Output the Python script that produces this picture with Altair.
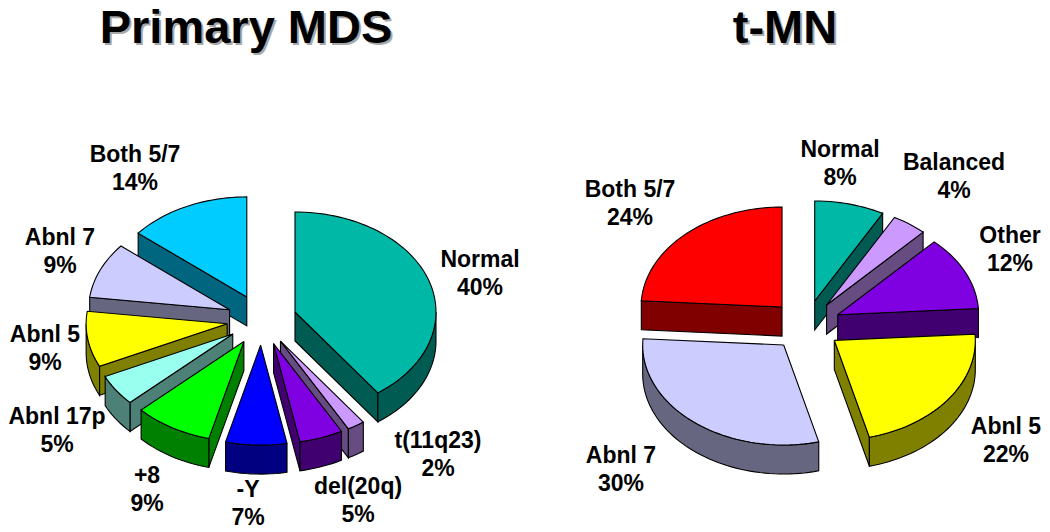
import math
import altair as alt
import pandas as pd

# ---- data ----
mds_names = ["Normal", "t(11q23)", "del(20q)", "-Y", "+8", "Abnl 17p", "Abnl 5", "Abnl 7", "Both 5/7"]
mds_values = [40, 2, 5, 7, 9, 5, 9, 9, 14]
mds_top = ["#00B8A6", "#CC99FF", "#7F00E0", "#0000FF", "#00FF00", "#99FFEE", "#FFFF00", "#CCCCFF", "#00CCFF"]
mds_side = ["#005C53", "#664C80", "#400070", "#000080", "#008000", "#4D8077", "#808000", "#666680", "#006680"]

tmn_names = ["Normal", "Balanced", "Other", "Abnl 5", "Abnl 7", "Both 5/7"]
tmn_values = [8, 4, 12, 22, 30, 24]
tmn_top = ["#00B8A6", "#CC99FF", "#7F00E0", "#FFFF00", "#CCCCFF", "#FF0000"]
tmn_side = ["#005C53", "#664C80", "#400070", "#808000", "#666680", "#800000"]

titles = ["Primary MDS", "t-MN"]

# ---- layout of the two tilted pies (page pixels) ----
W, H = 1034, 524
RX, RY, DEPTH = 141, 100, 29
EX, EY = 35, 25.3
PIES = [(261.7, 319.8), (806, 325.5)]
LINE = 28
FS = 23

mds_label_xy = [(480, 260), (438, 441), (358, 487), (248, 490), (147, 476),
                (57, 417), (45, 335), (60, 238), (135, 155)]
tmn_label_xy = [(840, 150), (954, 163), (1010, 236), (1006, 427), (621, 456), (630, 190)]
title_xy = [(246, 42.5), (785, 42.5)]


def rim(cx, cy, t, dy=0):
    r = math.radians(t)
    return cx + RX * math.sin(r), cy - RY * math.cos(r) + dy


def angles(a, b):
    n = max(2, int(abs(b - a) / 2) + 1)
    return [a + (b - a) * i / (n - 1) for i in range(n)]


rows, sid = [], 0


def add(points, fill):
    global sid
    closed = points + [points[0]]
    for i, (x, y) in enumerate(closed):
        rows.append({"shape": sid, "ord": i, "x": x, "y": y, "fill": fill})
    sid += 1


def pie(values, tops, sides, centre):
    total = sum(values)
    spans, acc = [], 0
    for v in values:
        spans.append((acc * 360 / total, (acc + v) * 360 / total))
        acc += v
    order = sorted(range(len(values)),
                   key=lambda i: -math.cos(math.radians(sum(spans[i]) / 2)))
    for i in order:
        t0, t1 = spans[i]
        mid = math.radians((t0 + t1) / 2)
        ax = centre[0] + EX * math.sin(mid)
        ay = centre[1] - EY * math.cos(mid)
        if math.sin(math.radians(t0)) < -1e-9:
            c = rim(ax, ay, t0)
            add([(ax, ay), c, (c[0], c[1] + DEPTH), (ax, ay + DEPTH)], sides[i])
        if math.sin(math.radians(t1)) > 1e-9:
            c = rim(ax, ay, t1)
            add([(ax, ay), c, (c[0], c[1] + DEPTH), (ax, ay + DEPTH)], sides[i])
        lo, hi = max(t0, 90), min(t1, 270)
        if hi > lo:
            ts = angles(lo, hi)
            add([rim(ax, ay, t) for t in ts] +
                [rim(ax, ay, t, DEPTH) for t in reversed(ts)], sides[i])
        add([(ax, ay)] + [rim(ax, ay, t) for t in angles(t0, t1)], tops[i])


pie(mds_values, mds_top, mds_side, PIES[0])
pie(tmn_values, tmn_top, tmn_side, PIES[1])
shapes = pd.DataFrame(rows)

labels = []
for names, values, xy in [(mds_names, mds_values, mds_label_xy), (tmn_names, tmn_values, tmn_label_xy)]:
    for n, v, (x, y) in zip(names, values, xy):
        labels.append({"x": x, "y": y, "t": n})
        labels.append({"x": x, "y": y + LINE, "t": f"{v}%"})
labels = pd.DataFrame(labels)

head = pd.DataFrame([{"x": x, "y": y, "t": t} for t, (x, y) in zip(titles, title_xy)])

xs = alt.Scale(domain=[8, 8 + W], nice=False, zero=False)
ys = alt.Scale(domain=[8 + H, 8], nice=False, zero=False)
X = alt.X("x:Q", scale=xs, axis=None)
Y = alt.Y("y:Q", scale=ys, axis=None)

poly = alt.Chart(shapes).mark_line(stroke="#000000", strokeWidth=1.1, strokeJoin="miter", clip=False).encode(
    x=X, y=Y, order=alt.Order("ord:Q"), detail="shape:N",
    fill=alt.Fill("fill:N", scale=None),
)
text = alt.Chart(labels).mark_text(font="Liberation Sans", fontWeight="bold", fontSize=FS,
                                   color="#000000", baseline="middle", align="center").encode(
    x=X, y=Y, text="t:N")
shadow = alt.Chart(head).mark_text(font="Liberation Sans", fontWeight="bold", fontSize=47, dx=2, dy=2,
                                   color="#A8A8A8", baseline="alphabetic", align="center").encode(
    x=X, y=Y, text="t:N")
title = alt.Chart(head).mark_text(font="Liberation Sans", fontWeight="bold", fontSize=47,
                                  color="#000000", baseline="alphabetic", align="center").encode(
    x=X, y=Y, text="t:N")

chart = alt.layer(poly, text, shadow, title).properties(
    width=W, height=H, padding=0, background="#FFFFFF",
    autosize=alt.AutoSizeParams(type="none"),
).configure_view(stroke=None)

chart.save("out.html", embed_options={"renderer": "svg", "actions": False})
